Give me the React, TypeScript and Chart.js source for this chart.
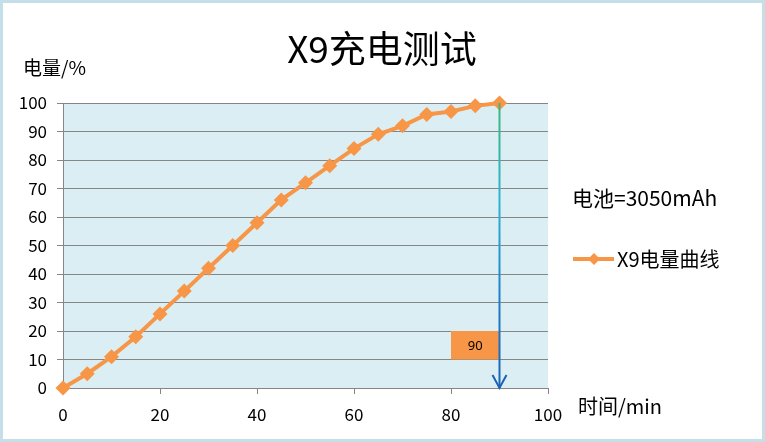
import { Chart, registerables } from 'chart.js';
import { useEffect, useRef } from 'react';

Chart.register(...registerables);

const minutes = [0, 5, 10, 15, 20, 25, 30, 35, 40, 45, 50, 55, 60, 65, 70, 75, 80, 85, 90];
const charge = [0, 5, 11, 18, 26, 34, 42, 50, 58, 66, 72, 78, 84, 89, 92, 96, 97, 99, 100];
const seriesName = 'X9电量曲线';
const chartTitle = 'X9充电测试';
const yTitle = '电量/%';
const xTitle = '时间/min';
const batteryNote = '电池=3050mAh';
const boxMinutes = [80, 90];
const boxCharge = [10, 20];
const boxLabel = '90';
const arrowMinute = 90;
const arrowCharge = [100, 0];

const ORANGE = '#f79646';
const GRID = '#868686';
const CJK = '"Noto Sans CJK SC", "Noto Sans", sans-serif';

const overlay = {
    id: 'overlay',
    beforeDraw(chart: Chart) {
        const { ctx, chartArea: a } = chart;
        ctx.save();
        ctx.fillStyle = '#dbeef4';
        ctx.fillRect(a.left, a.top, a.right - a.left, a.bottom - a.top);
        ctx.restore();
    },
    afterDraw(chart: Chart) {
        const { ctx, width, height } = chart;
        const xs = chart.scales.x;
        const ys = chart.scales.y;
        ctx.save();

        // outer frame
        ctx.strokeStyle = '#c4dfe8';
        ctx.lineWidth = 3;
        ctx.strokeRect(1.5, 1.5, width - 3, height - 3);

        // title and axis names
        ctx.fillStyle = '#000';
        ctx.textBaseline = 'middle';
        ctx.textAlign = 'center';
        ctx.font = `37px ${CJK}`;
        ctx.fillText(chartTitle, 382, 49);
        ctx.textAlign = 'left';
        ctx.font = `19px ${CJK}`;
        ctx.fillText(yTitle, 23, 68);
        ctx.font = `20px ${CJK}`;
        ctx.fillText(xTitle, 578, 406);
        ctx.font = `21px ${CJK}`;
        ctx.fillText(batteryNote, 572, 198);

        // legend
        ctx.strokeStyle = ORANGE;
        ctx.lineWidth = 4;
        ctx.beginPath();
        ctx.moveTo(573, 259);
        ctx.lineTo(614, 259);
        ctx.stroke();
        ctx.fillStyle = ORANGE;
        ctx.beginPath();
        ctx.moveTo(594, 253);
        ctx.lineTo(600, 259);
        ctx.lineTo(594, 265);
        ctx.lineTo(588, 259);
        ctx.closePath();
        ctx.fill();
        ctx.fillStyle = '#000';
        ctx.font = `20px ${CJK}`;
        ctx.fillText(seriesName, 617, 259);

        // labelled box
        const bx0 = xs.getPixelForValue(boxMinutes[0]);
        const bx1 = xs.getPixelForValue(boxMinutes[1]);
        const by0 = ys.getPixelForValue(boxCharge[1]);
        const by1 = ys.getPixelForValue(boxCharge[0]);
        ctx.fillStyle = ORANGE;
        ctx.fillRect(bx0, by0, bx1 - bx0, by1 - by0);
        ctx.fillStyle = '#000';
        ctx.textAlign = 'center';
        ctx.font = '13px "Noto Sans", sans-serif';
        ctx.fillText(boxLabel, (bx0 + bx1) / 2, (by0 + by1) / 2 + 1);

        // arrow
        const ax = xs.getPixelForValue(arrowMinute);
        const ay0 = ys.getPixelForValue(arrowCharge[0]);
        const ay1 = ys.getPixelForValue(arrowCharge[1]);
        const grad = ctx.createLinearGradient(0, ay0, 0, ay1);
        grad.addColorStop(0, '#3cb878');
        grad.addColorStop(0.35, '#2eb2d6');
        grad.addColorStop(0.7, '#1f7cc8');
        grad.addColorStop(1, '#1a62b6');
        ctx.strokeStyle = grad;
        ctx.lineWidth = 2;
        ctx.beginPath();
        ctx.moveTo(ax, ay0);
        ctx.lineTo(ax, ay1);
        ctx.stroke();
        ctx.strokeStyle = '#1a62b6';
        ctx.beginPath();
        ctx.moveTo(ax - 7, ay1 - 13);
        ctx.lineTo(ax, ay1);
        ctx.lineTo(ax + 7, ay1 - 13);
        ctx.stroke();

        ctx.restore();
    },
};

function ChargeChart() {
    const canvasRef = useRef<HTMLCanvasElement | null>(null);

    useEffect(() => {
        if (!canvasRef.current) {
            return;
        }

        const chart = new Chart(canvasRef.current, {
            type: 'line',
            data: {
                datasets: [
                    {
                        label: seriesName,
                        data: minutes.map((m, i) => ({ x: m, y: charge[i] })),
                        borderColor: ORANGE,
                        backgroundColor: ORANGE,
                        borderWidth: 4,
                        pointStyle: 'rectRot',
                        pointRadius: 7.5,
                        pointBorderWidth: 0,
                        tension: 0,
                        clip: false,
                    },
                ],
            },
            options: {
                animation: false,
                responsive: true,
                maintainAspectRatio: false,
                layout: { padding: { top: 103, right: 217, bottom: 0, left: 0 } },
                plugins: {
                    legend: { display: false },
                    tooltip: { enabled: false },
                },
                scales: {
                    x: {
                        type: 'linear',
                        min: 0,
                        max: 100,
                        ticks: { stepSize: 20, padding: 10, color: '#000', font: { family: CJK, size: 17 }, maxRotation: 0 },
                        grid: { drawOnChartArea: false, tickLength: 6, color: GRID },
                        border: { color: GRID },
                        afterFit: (scale) => {
                            scale.height = 54;
                        },
                    },
                    y: {
                        min: 0,
                        max: 100,
                        ticks: { stepSize: 10, padding: 10, color: '#000', font: { family: CJK, size: 17 } },
                        grid: { tickLength: 6, color: GRID },
                        border: { color: GRID },
                        afterFit: (scale) => {
                            scale.width = 63;
                        },
                    },
                },
            },
            plugins: [overlay],
        });

        return () => chart.destroy();
    }, []);

    return (
        <div style={{ width: 765, height: 442, position: 'relative', background: '#fff' }}>
            <canvas ref={canvasRef} aria-label={chartTitle} />
        </div>
    );
}

export default function App() {
    useEffect(() => {
        document.body.style.margin = '0';
    }, []);
    return <ChargeChart />;
}
